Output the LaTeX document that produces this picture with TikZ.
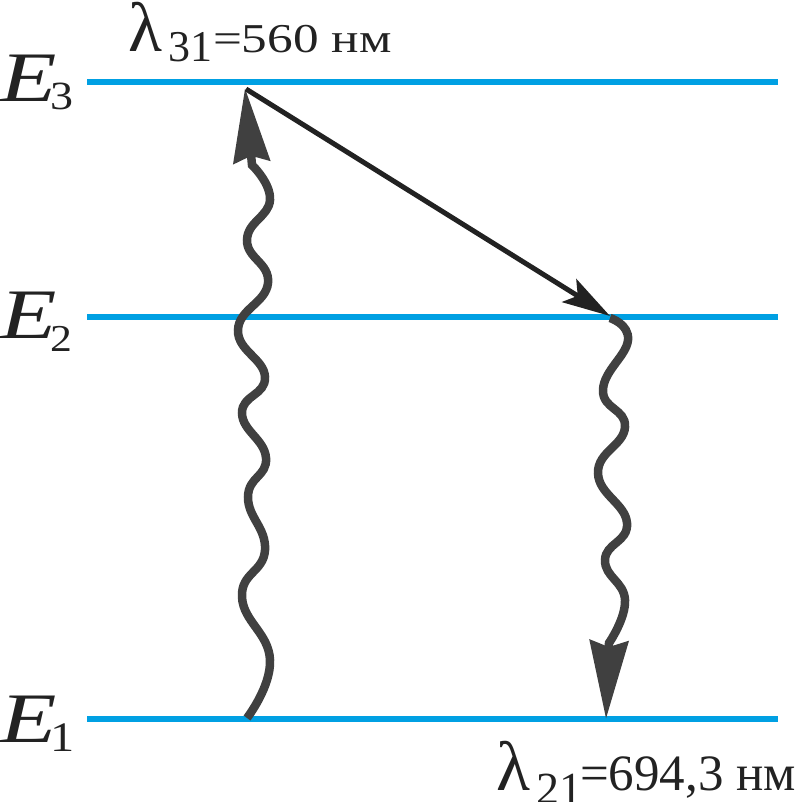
\documentclass[tikz,border=0pt]{standalone}
\usepackage{fontspec}
\setmainfont{Liberation Serif}
\usetikzlibrary{arrows.meta}
\definecolor{lvl}{HTML}{00A0E3}
\definecolor{wav}{HTML}{404040}
\definecolor{dark}{HTML}{222222}
\begin{document}
\begin{tikzpicture}[x=1pt,y=-1pt,
  level/.style={draw=lvl,line width=5.5pt},
  wave/.style={draw=wav,line width=8.5pt},
  lab/.style={anchor=base west,inner sep=0pt,outer sep=0pt,text=dark}]
\useasboundingbox (0,0) rectangle (798,802);
% levels
\coordinate (l3a) at (87,82);  \coordinate (l3b) at (778,82);
\coordinate (l2a) at (87,317); \coordinate (l2b) at (778,317);
\coordinate (l1a) at (87,719); \coordinate (l1b) at (778,719);
\draw[level] (l3a) -- (l3b);
\draw[level] (l2a) -- (l2b);
\draw[level] (l1a) -- (l1b);
% pumping (wavy up)
\coordinate (up) at (245,88);
\draw[wave,-{Stealth[length=74pt,width=36pt,inset=6pt]}]
  plot[smooth,tension=0.8] coordinates {(247,718) (270,660) (242,597) (265,550) (248,497) (266,458) (242,413) (265,377) (238,330) (268,283) (247,240) (270,200) (252,165)} -- (up);
% emission (wavy down)
\coordinate (dn) at (606,719);
\draw[wave,-{Stealth[length=78pt,width=38pt,inset=6pt]}]
  plot[smooth,tension=0.8] coordinates {(610,318) (628,340) (603,390) (625,427) (598,473) (627,523) (605,560) (625,600) (609,643)} -- (dn);
% non-radiative transition
\coordinate (sa) at (246,89);
\coordinate (sb) at (610,316);
\draw[draw=dark,line width=5pt,-{Stealth[length=48pt,width=27pt,inset=10pt]}] (sa) -- (sb);
% labels
\node[lab] (E3) at (0,102) {\scalebox{1.3}[1]{\fontsize{71}{71}\selectfont\itshape E}};
\node[lab] (E3s) at (50,110) {\scalebox{1.15}[1]{\fontsize{40}{40}\selectfont 3}};
\node[lab] (E2) at (0,338) {\scalebox{1.3}[1]{\fontsize{71}{71}\selectfont\itshape E}};
\node[lab] (E2s) at (50,351) {\scalebox{1.15}[1]{\fontsize{38}{38}\selectfont 2}};
\node[lab] (E1) at (0,742) {\scalebox{1.3}[1]{\fontsize{71}{71}\selectfont\itshape E}};
\node[lab] (E1s) at (50,751) {\scalebox{1.15}[1]{\fontsize{42}{42}\selectfont 1}};
% wavelengths
\node[lab] (L31) at (128,52) {\fontsize{70}{70}\selectfont λ};
\node[lab] (L31s) at (168,62) {\fontsize{44}{44}\selectfont 31};
\node[lab] (L31v) at (213,53) {\scalebox{1.25}[1]{\fontsize{41}{41}\selectfont =560 нм}};
\node[lab] (L21) at (496,790) {\fontsize{70}{70}\selectfont λ};
\node[lab] (L21s) at (536,804) {\fontsize{46}{46}\selectfont 21};
\node[lab] (L21v) at (580,790) {\fontsize{51}{51}\selectfont =694,3 нм};
\end{tikzpicture}
\end{document}
